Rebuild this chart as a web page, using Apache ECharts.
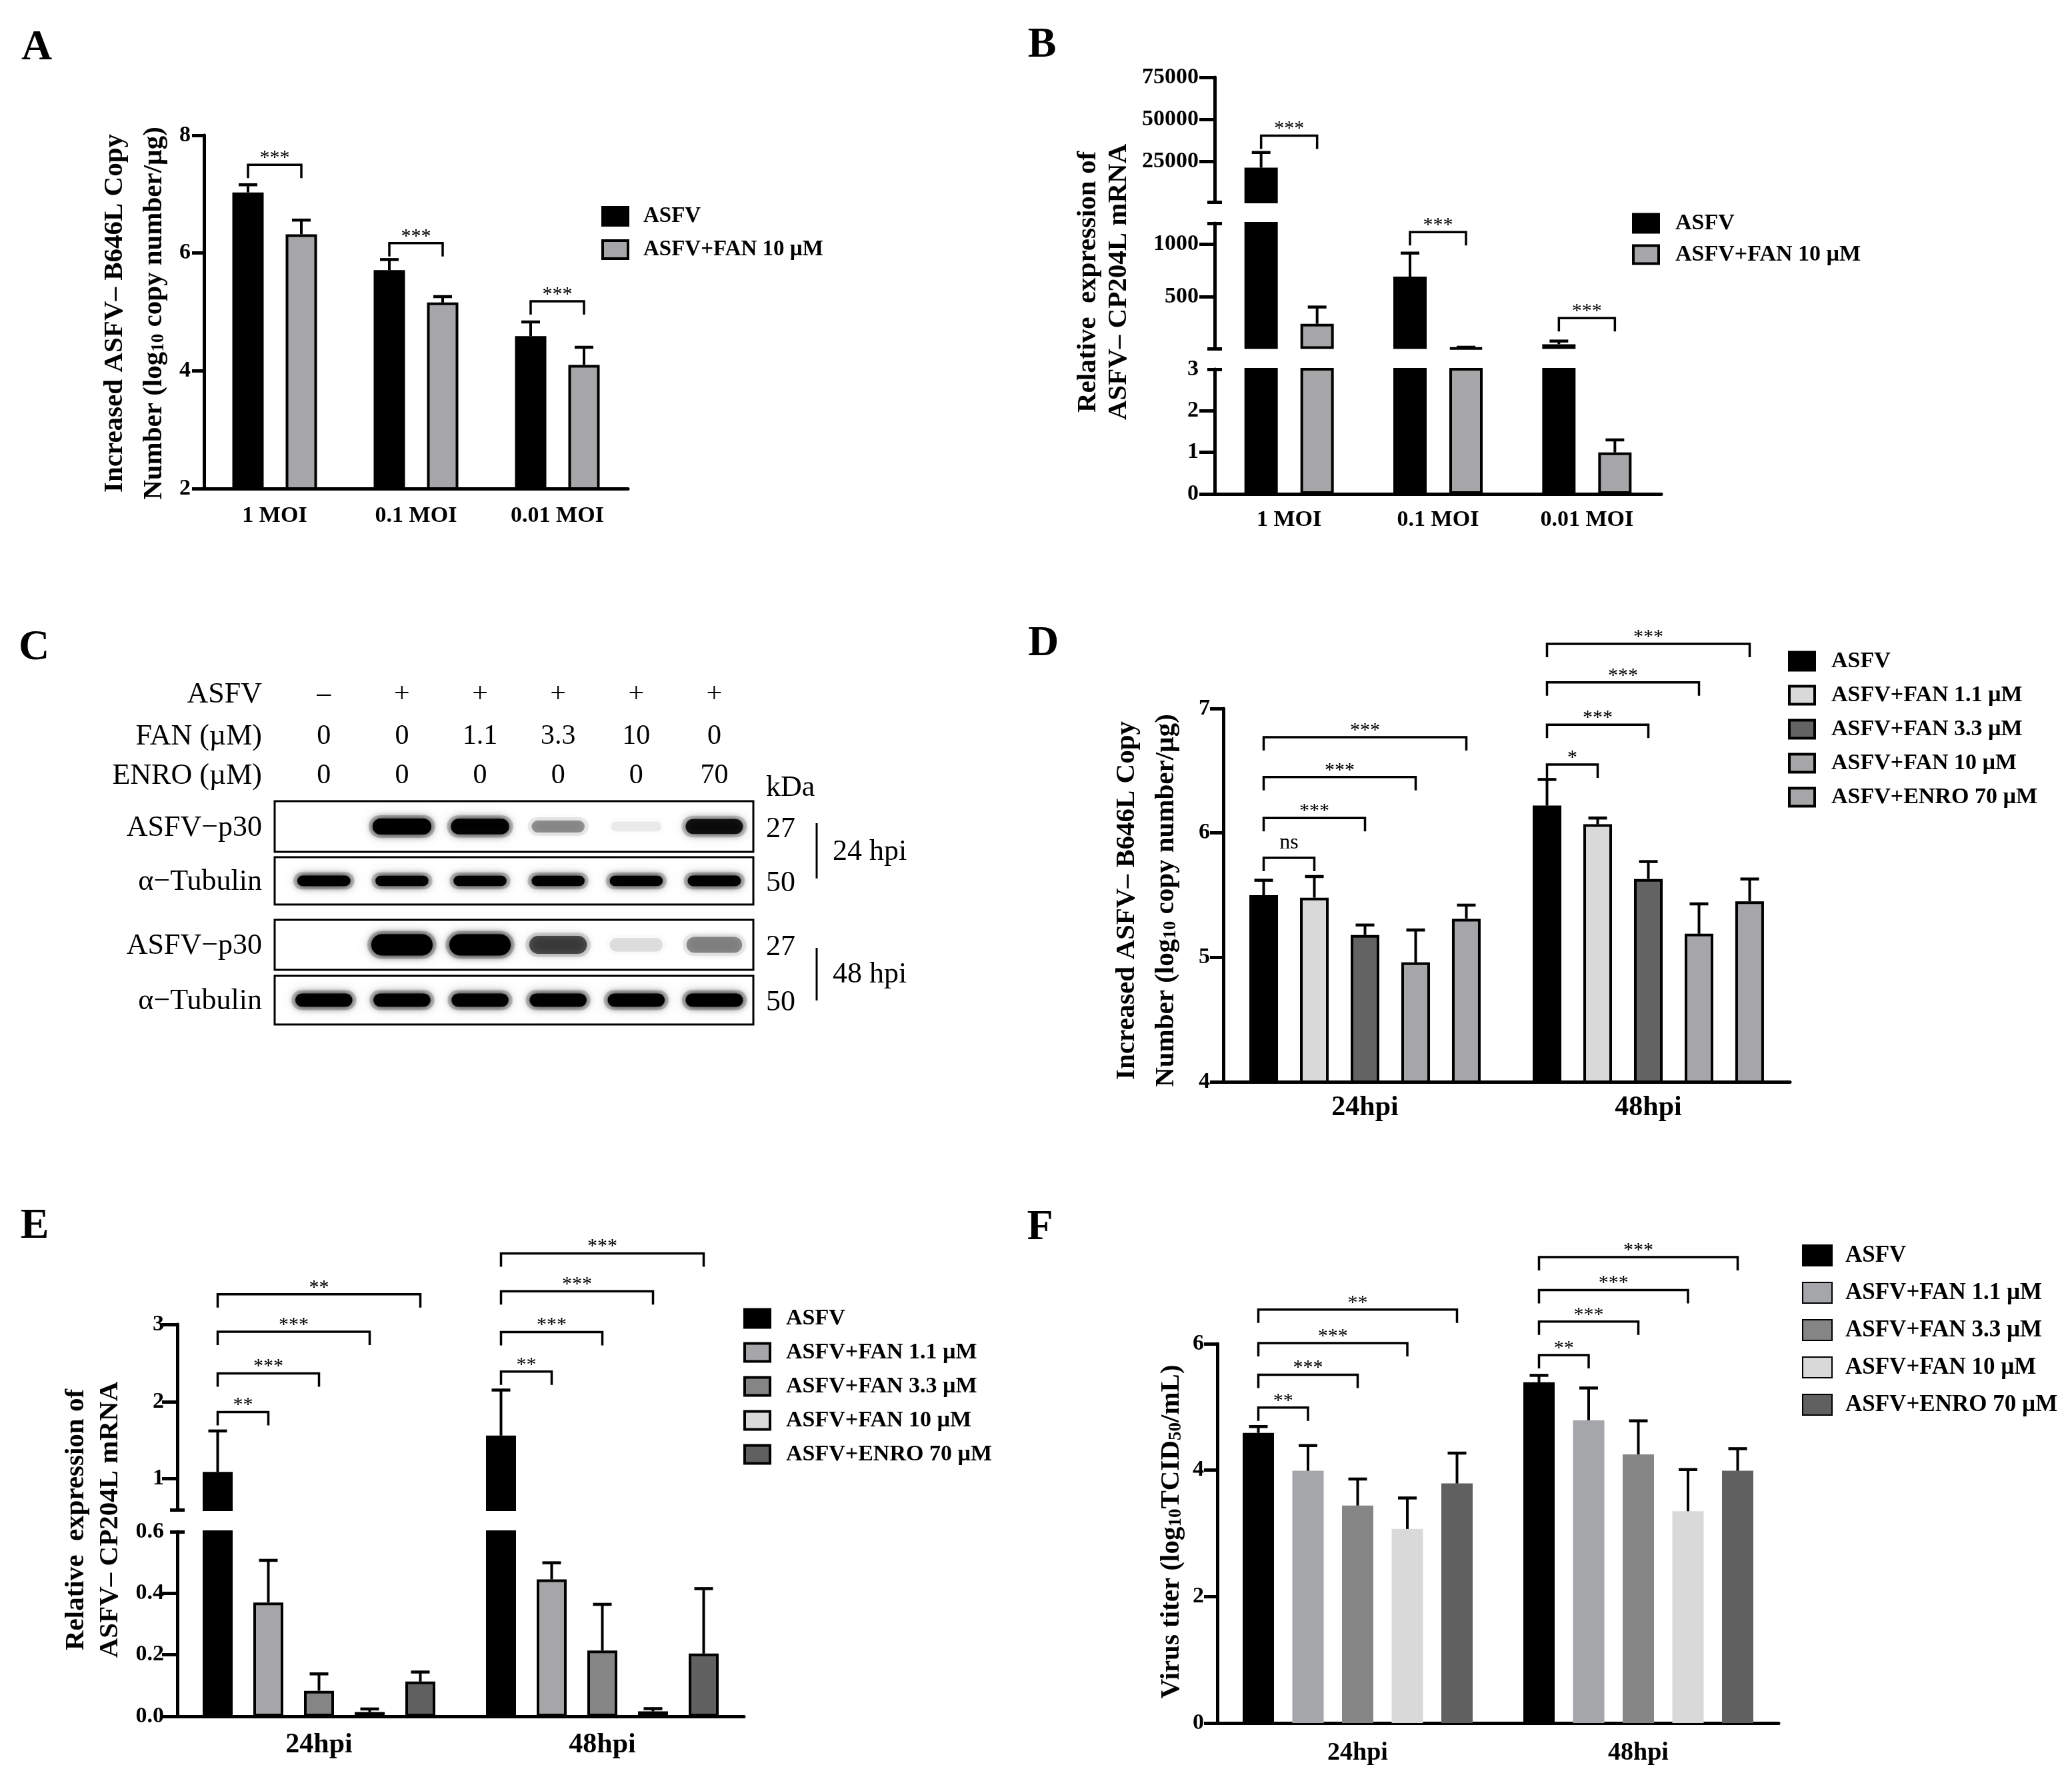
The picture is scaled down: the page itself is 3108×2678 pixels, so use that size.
<!DOCTYPE html>
<html>
<head>
<meta charset="utf-8">
<script src="https://cdn.jsdelivr.net/npm/echarts@6/dist/echarts.min.js"></script>
<style>html,body{margin:0;padding:0;background:#fff}#c{width:3108px;height:2678px}</style>
</head>
<body>
<div id="c"></div>
<script>
const FONT = '"Liberation Serif","Times New Roman",serif';

// ================= DATA =================
const moiCats = ['1 MOI', '0.1 MOI', '0.01 MOI'];
const hpiCats = ['24hpi', '48hpi'];
const twoNames = ['ASFV', 'ASFV+FAN 10 µM'];
const fiveNames = ['ASFV', 'ASFV+FAN 1.1 µM', 'ASFV+FAN 3.3 µM', 'ASFV+FAN 10 µM', 'ASFV+ENRO 70 µM'];

// Panel A
const A_asfv = [7.03, 5.71, 4.59];
const A_asfvErr = [0.13, 0.18, 0.24];
const A_fan10 = [6.32, 5.16, 4.10];
const A_fan10Err = [0.24, 0.10, 0.30];
const A_sig = [[0, 0, 1, 7.50], [1, 0, 1, 6.17], [2, 0, 1, 5.18]];
const A_sigLabels = ['***', '***', '***'];

// Panel B (broken axis)
const B_asfv = [21500, 690, 45];
const B_asfvErr = [9000, 225, 30];
const B_fan10 = [240, 10, 1.0];
const B_fan10Err = [160, 6, 0.3];
const B_sigTop = [[0, 0, 1, 40500]];
const B_sigTopLabels = ['***'];
const B_sigMid = [[1, 0, 1, 1115], [2, 0, 1, 295]];
const B_sigMidLabels = ['***', '***'];
const B_ticksTop = [25000, 50000, 75000];
const B_capsTop = [1200];
const B_ticksMid = [500, 1000];
const B_capsMid = [3, 1200];
const B_ticksBot = [0, 1, 2];
const B_labelsBot = [0, 1, 2, 3];
const B_capsBot = [3];

// Panel C (western blot)
const laneASFV = ['–', '+', '+', '+', '+', '+'];
const laneFAN = ['0', '0', '1.1', '3.3', '10', '0'];
const laneENRO = ['0', '0', '0', '0', '0', '70'];
const blotP30_24 = [0, 1.0, 0.95, 0.36, 0.07, 0.85];
const blotTub_24 = [0.98, 0.96, 0.96, 0.96, 0.96, 0.98];
const blotP30_48 = [0, 1.0, 1.0, 0.6, 0.11, 0.38];
const blotTub_48 = [0.97, 0.97, 0.97, 0.97, 0.97, 1.0];
const blotRowNames = ['ASFV−p30', 'α−Tubulin', 'ASFV−p30', 'α−Tubulin'];
const blotKDa = ['27', '50', '27', '50'];

// Panel D
const D_asfv = [5.50, 6.22], D_asfvErr = [0.12, 0.21];
const D_fan11 = [5.48, 6.07], D_fan11Err = [0.17, 0.05];
const D_fan33 = [5.18, 5.63], D_fan33Err = [0.08, 0.14];
const D_fan10 = [4.96, 5.19], D_fan10Err = [0.26, 0.24];
const D_enro = [5.31, 5.45], D_enroErr = [0.11, 0.18];
const D_sig = [[0,0,1,5.80],[0,0,2,6.12],[0,0,3,6.45],[0,0,4,6.77],[1,0,1,6.55],[1,0,2,6.87],[1,0,3,7.21],[1,0,4,7.52]];
const D_sigLabels = ['ns','***','***','***','*','***','***','***'];

// Panel E (broken axis)
const E_asfv = [1.09, 1.56], E_asfvErr = [0.53, 0.59];
const E_fan11 = [0.37, 0.445], E_fan11Err = [0.137, 0.054];
const E_fan33 = [0.083, 0.214], E_fan33Err = [0.055, 0.15];
const E_fan10 = [0.014, 0.016], E_fan10Err = [0.01, 0.009];
const E_enro = [0.113, 0.204], E_enroErr = [0.031, 0.211];
const E_sig = [[0,0,1,1.865],[0,0,2,2.365],[0,0,3,2.905],[0,0,4,3.39],[1,0,1,2.39],[1,0,2,2.90],[1,0,3,3.43],[1,0,4,3.92]];
const E_sigLabels = ['**','***','***','**','**','***','***','***'];
const E_ticksTop = [1, 2, 3];
const E_capsTop = [0.6];
const E_ticksBot = [0, 0.2, 0.4];
const E_labelsBot = [0, 0.2, 0.4, 0.6];
const E_capsBot = [0.6];

// Panel F
const F_asfv = [4.59, 5.39], F_asfvErr = [0.10, 0.11];
const F_fan11 = [3.99, 4.79], F_fan11Err = [0.40, 0.51];
const F_fan33 = [3.44, 4.25], F_fan33Err = [0.42, 0.53];
const F_fan10 = [3.07, 3.35], F_fan10Err = [0.49, 0.66];
const F_enro = [3.79, 3.99], F_enroErr = [0.48, 0.35];
const F_sig = [[0,0,1,4.99],[0,0,2,5.51],[0,0,3,6.01],[0,0,4,6.54],[1,0,1,5.82],[1,0,2,6.35],[1,0,3,6.85],[1,0,4,7.37]];
const F_sigLabels = ['**','***','***','**','**','***','***','***'];

// ================= BUILDERS =================
const grid = [], xAxis = [], yAxis = [], series = [], legend = [], graphic = [];
const AX = {color: '#000', width: 5};

function addCartesian(g, cats, y, xc) {
  const gi = grid.length;
  grid.push({left: g.left, top: g.top, width: g.width, height: g.height, containLabel: false, outerBoundsMode: 'none'});
  const xi = xAxis.length;
  xAxis.push({
    gridIndex: gi, type: 'category', data: cats, show: xc.show !== false,
    axisLine: {onZero: false, lineStyle: AX},
    axisTick: {alignWithLabel: true, length: xc.tick || 17, lineStyle: AX},
    axisLabel: {fontFamily: FONT, fontWeight: 'bold', fontSize: xc.fontSize || 34, color: '#000', margin: xc.margin || 22},
    splitLine: {show: false}
  });
  const yi = yAxis.length;
  const ya = {
    gridIndex: gi, type: 'value', min: y.min, max: y.max, position: 'left',
    axisLine: {show: true, onZero: false, lineStyle: AX},
    axisTick: {show: true, length: y.tick || 19, lineStyle: AX},
    axisLabel: {fontFamily: FONT, fontWeight: 'bold', fontSize: y.fontSize || 34, color: '#000', margin: y.margin || 20,
      formatter: y.fmt || (v => String(v))},
    splitLine: {show: false}
  };
  if (y.interval) ya.interval = y.interval;
  if (y.ticks) { ya.axisTick.customValues = y.ticks; ya.axisLabel.customValues = y.labels || y.ticks; }
  yAxis.push(ya);
  if (y.caps) {
    // symmetric end caps at the axis break
    [true, false].forEach(inside => yAxis.push({
      gridIndex: gi, type: 'value', min: y.min, max: y.max, position: 'left',
      axisLine: {show: false}, axisLabel: {show: false}, splitLine: {show: false},
      axisTick: {show: true, inside, length: 11, customValues: y.caps, lineStyle: AX}
    }));
  }
  return {x: xi, y: yi, lo: y.min, hi: y.max};
}

// values at or below the segment floor are left out of that segment
function addBars(ax, names, vals, styles, bw, spacing) {
  const gap = ((spacing / bw - 1) * 100).toFixed(1) + '%';
  names.forEach((nm, i) => {
    const d = vals[i].map(v => (v > ax.lo ? v : '-'));
    series.push({type: 'bar', name: nm, xAxisIndex: ax.x, yAxisIndex: ax.y, data: d,
      barWidth: bw, barGap: gap, itemStyle: styles[i], clip: true, silent: true, z: 2});
  });
}

function errRender(n, spacing, lo, hi) {
  return function (params, api) {
    const c = api.value(0), b = api.value(1), v = api.value(2), e = api.value(3);
    const top = v + e;
    if (top <= lo || v >= hi) return {type: 'group', children: []};
    const p1 = api.coord([c, Math.max(v, lo)]), p2 = api.coord([c, Math.min(top, hi)]);
    const x = p1[0] + (b - (n - 1) / 2) * spacing;
    const ch = [{type: 'line', shape: {x1: x, y1: p1[1], x2: x, y2: p2[1]}, style: {stroke: '#000', lineWidth: 4}}];
    if (top <= hi)
      ch.push({type: 'line', shape: {x1: x - 14, y1: p2[1], x2: x + 14, y2: p2[1]}, style: {stroke: '#000', lineWidth: 4.5}});
    return {type: 'group', children: ch};
  };
}

function addErr(ax, vals, errs, n, spacing) {
  const data = [];
  vals.forEach((arr, b) => arr.forEach((v, c) => data.push([c, b, v, errs[b][c]])));
  series.push({type: 'custom', xAxisIndex: ax.x, yAxisIndex: ax.y, data, encode: {x: 0, y: 2},
    renderItem: errRender(n, spacing, ax.lo, ax.hi), z: 3, silent: true, clip: false});
}

function addSig(ax, sig, labels, n, spacing) {
  series.push({type: 'custom', xAxisIndex: ax.x, yAxisIndex: ax.y, data: sig, encode: {x: 0, y: 3},
    clip: false, z: 4, silent: true,
    renderItem: function (params, api) {
      const c = api.value(0), f = api.value(1), t = api.value(2), y = api.value(3);
      const p = api.coord([c, y]);
      const x1 = p[0] + (f - (n - 1) / 2) * spacing, x2 = p[0] + (t - (n - 1) / 2) * spacing;
      const lab = labels[params.dataIndex];
      const ns = lab === 'ns';
      return {type: 'group', children: [
        {type: 'polyline', shape: {points: [[x1, p[1] + 20], [x1, p[1]], [x2, p[1]], [x2, p[1] + 20]]},
          style: {stroke: '#000', lineWidth: 3.5, fill: 'none'}},
        {type: 'text', style: {text: lab, x: (x1 + x2) / 2, y: ns ? p[1] - 6 : p[1] + 5,
          align: 'center', verticalAlign: 'bottom', textAlign: 'center', textVerticalAlign: 'bottom',
          fontFamily: FONT, fontWeight: 'normal', fontSize: ns ? 32 : 30, fill: '#000'}}
      ]};
    }});
}

function addLegend(left, top, gap, names, styles, fontSize, iw, ih, pad) {
  legend.push({orient: 'vertical', left, top, itemWidth: iw, itemHeight: ih, itemGap: gap, icon: 'rect',
    selectedMode: false, padding: 0,
    data: names.map((n, i) => ({name: n, itemStyle: styles[i]})),
    textStyle: {fontFamily: FONT, fontWeight: 'bold', fontSize, color: '#000', lineHeight: 30, padding: [0, 0, 0, pad]}});
}

function txt(x, y, text, o) {
  o = o || {};
  graphic.push({type: 'text', x, y, rotation: o.rot || 0, silent: true, z: 10,
    style: Object.assign({text, fontFamily: FONT, fontWeight: o.bold ? 'bold' : 'normal', fontSize: o.size || 40,
      fill: '#000', align: o.align || 'center', verticalAlign: 'middle',
      textAlign: o.align || 'center', textVerticalAlign: 'middle'}, o.rich ? {rich: o.rich} : {})});
}
const SUB = {s: {fontFamily: FONT, fontWeight: 'bold', fontSize: 27, fill: '#000', verticalAlign: 'bottom', lineHeight: 12}};
function yTitle(x, y, text) { txt(x, y, text, {rot: Math.PI / 2, bold: true, size: 41, rich: SUB}); }

const B4 = c => ({color: c, borderColor: '#000', borderWidth: 4});
const NB = c => ({color: c});

// ================= PANEL A =================
{
  const ax = addCartesian({left: 306, top: 203, width: 636, height: 530}, moiCats, {min: 2, max: 8, interval: 2, tick: 18}, {margin: 24, tick: 18});
  const st = [B4('#000'), B4('#a6a6a8')];
  addBars(ax, twoNames, [A_asfv, A_fan10], st, 47, 80);
  addErr(ax, [A_asfv, A_fan10], [A_asfvErr, A_fan10Err], 2, 80);
  addSig(ax, A_sig, A_sigLabels, 2, 80);
  addLegend(902, 308, 17, twoNames, st, 33, 38, 27, 18);
  yTitle(172, 470, 'Increased ASFV– B646L Copy');
  yTitle(231, 470, 'Number (log{s|10} copy number/µg)');
  txt(55, 72, 'A', {bold: true, size: 64});
}

// ================= PANEL B =================
{
  const L = 1822, W = 670;
  const st = [B4('#000'), B4('#a6a6a8')];
  const vals = [B_asfv, B_fan10], errs = [B_asfvErr, B_fan10Err];
  const a1 = addCartesian({left: L, top: 116, width: W, height: 187}, moiCats,
    {min: 1200, max: 75000, ticks: B_ticksTop, caps: B_capsTop, tick: 23, margin: 24}, {show: false});
  addBars(a1, twoNames, vals, st, 50, 84); addErr(a1, vals, errs, 2, 84); addSig(a1, B_sigTop, B_sigTopLabels, 2, 84);
  const a2 = addCartesian({left: L, top: 335, width: W, height: 188}, moiCats,
    {min: 3, max: 1200, ticks: B_ticksMid, caps: B_capsMid, tick: 23, margin: 24}, {show: false});
  addBars(a2, twoNames, vals, st, 50, 84); addErr(a2, vals, errs, 2, 84); addSig(a2, B_sigMid, B_sigMidLabels, 2, 84);
  const a3 = addCartesian({left: L, top: 554, width: W, height: 187}, moiCats,
    {min: 0, max: 3, ticks: B_ticksBot, labels: B_labelsBot, caps: B_capsBot, tick: 23, margin: 24}, {margin: 22, tick: 18});
  addBars(a3, twoNames, vals, st, 50, 84); addErr(a3, vals, errs, 2, 84);
  addLegend(2448, 318, 13, twoNames, st, 34, 38, 27, 20);
  yTitle(1632, 423, 'Relative  expression of');
  yTitle(1678, 423, 'ASFV– CP204L mRNA');
  txt(1563, 68, 'B', {bold: true, size: 64});
}

// ================= PANEL C (blot) =================
{
  const boxes = [{top: 1202, height: 76}, {top: 1286, height: 71}, {top: 1380, height: 75}, {top: 1464, height: 73}];
  const rows = [blotP30_24, blotTub_24, blotP30_48, blotTub_48];
  const bandW = [88, 80, 92, 86], bandH = [24, 16, 32, 20];
  boxes.forEach((b, r) => {
    const gi = grid.length;
    grid.push({left: 412, width: 718, top: b.top, height: b.height, show: true, borderColor: '#000', borderWidth: 3,
      backgroundColor: '#fff', containLabel: false, outerBoundsMode: 'none'});
    const xi = xAxis.length, yi = yAxis.length;
    xAxis.push({gridIndex: gi, type: 'value', min: -0.63, max: 5.5, show: false, splitLine: {show: false}});
    yAxis.push({gridIndex: gi, type: 'value', min: 0, max: 1, show: false, splitLine: {show: false}});
    const w = bandW[r], h = bandH[r];
    series.push({type: 'custom', xAxisIndex: xi, yAxisIndex: yi, silent: true, z: 3, clip: true,
      data: rows[r].map((a, i) => [i, 0.5, a]), encode: {x: 0, y: 1},
      renderItem: function (params, api) {
        const a = api.value(2);
        if (!(a > 0)) return;
        const c = api.coord([api.value(0), api.value(1)]);
        const hh = h * (0.6 + 0.4 * a), ww = w * (0.85 + 0.15 * a);
        return {type: 'group', children: [
          {type: 'rect', shape: {x: c[0] - ww / 2 - 6, y: c[1] - hh / 2 - 5, width: ww + 12, height: hh + 10, r: (hh + 10) / 2},
            style: {fill: 'rgba(0,0,0,' + (0.18 * a).toFixed(3) + ')', shadowBlur: 22, shadowColor: 'rgba(0,0,0,' + (0.45 * a).toFixed(3) + ')'}},
          {type: 'rect', shape: {x: c[0] - ww / 2, y: c[1] - hh / 2, width: ww, height: hh, r: hh / 2},
            style: {fill: 'rgba(0,0,0,' + a.toFixed(3) + ')', shadowBlur: 12, shadowColor: 'rgba(0,0,0,' + a.toFixed(3) + ')'}}
        ]};
      }});
    if (r === 0) {
      series.push({type: 'custom', xAxisIndex: xi, yAxisIndex: yi, silent: true, z: 3, clip: false,
        data: laneFAN.map((v, i) => [i, 1]), encode: {x: 0, y: 1},
        renderItem: function (params, api) {
          const i = params.dataIndex;
          const x = api.coord([api.value(0), 1])[0];
          const y0 = params.coordSys.y;
          const mk = (t, y) => ({type: 'text', style: {text: t, x, y, align: 'center', verticalAlign: 'middle',
            textAlign: 'center', textVerticalAlign: 'middle', fontFamily: FONT, fontSize: 42, fill: '#000'}});
          return {type: 'group', children: [mk(laneASFV[i], y0 - 160), mk(laneFAN[i], y0 - 97), mk(laneENRO[i], y0 - 38)]};
        }});
    }
    txt(393, b.top + b.height / 2 + 2, blotRowNames[r], {align: 'right', size: 44});
    txt(1149, b.top + b.height / 2 + 4, blotKDa[r], {align: 'left', size: 44});
  });
  txt(393, 1042, 'ASFV', {align: 'right', size: 44});
  txt(393, 1105, 'FAN (µM)', {align: 'right', size: 44});
  txt(393, 1164, 'ENRO (µM)', {align: 'right', size: 44});
  txt(1149, 1182, 'kDa', {align: 'left', size: 44});
  graphic.push({type: 'line', silent: true, shape: {x1: 1225, y1: 1235, x2: 1225, y2: 1318}, style: {stroke: '#000', lineWidth: 3}});
  graphic.push({type: 'line', silent: true, shape: {x1: 1225, y1: 1422, x2: 1225, y2: 1501}, style: {stroke: '#000', lineWidth: 3}});
  txt(1249, 1278, '24 hpi', {align: 'left', size: 44});
  txt(1249, 1462, '48 hpi', {align: 'left', size: 44});
  txt(51, 972, 'C', {bold: true, size: 64});
}

// ================= PANEL D =================
{
  const ax = addCartesian({left: 1835, top: 1063, width: 850, height: 560}, hpiCats, {min: 4, max: 7, interval: 1, tick: 20}, {fontSize: 42, margin: 18, tick: 16});
  const st = [B4('#000'), B4('#d9d9d9'), B4('#636363'), B4('#a6a6a8'), B4('#a6a6a8')];
  const vals = [D_asfv, D_fan11, D_fan33, D_fan10, D_enro];
  const errs = [D_asfvErr, D_fan11Err, D_fan33Err, D_fan10Err, D_enroErr];
  addBars(ax, fiveNames, vals, st, 43, 76);
  addErr(ax, vals, errs, 5, 76);
  addSig(ax, D_sig, D_sigLabels, 5, 76);
  addLegend(2682, 975, 17, fiveNames, st, 34, 38, 27, 20);
  yTitle(1690, 1351, 'Increased ASFV– B646L Copy');
  yTitle(1749, 1351, 'Number (log{s|10} copy number/µg)');
  txt(1565, 966, 'D', {bold: true, size: 64});
}

// ================= PANEL E =================
{
  const L = 266, W = 850;
  const st = [B4('#000'), B4('#a6a6a8'), B4('#858585'), B4('#d9d9d9'), B4('#606060')];
  const vals = [E_asfv, E_fan11, E_fan33, E_fan10, E_enro];
  const errs = [E_asfvErr, E_fan11Err, E_fan33Err, E_fan10Err, E_enroErr];
  const a1 = addCartesian({left: L, top: 1987, width: W, height: 278}, hpiCats,
    {min: 0.6, max: 3, ticks: E_ticksTop, caps: E_capsTop, tick: 23}, {show: false});
  addBars(a1, fiveNames, vals, st, 45, 76); addErr(a1, vals, errs, 5, 76); addSig(a1, E_sig, E_sigLabels, 5, 76);
  const a2 = addCartesian({left: L, top: 2298, width: W, height: 277}, hpiCats,
    {min: 0, max: 0.6, ticks: E_ticksBot, labels: E_labelsBot, caps: E_capsBot, tick: 23, fmt: v => Number(v).toFixed(1)},
    {fontSize: 42, margin: 22, tick: 16});
  addBars(a2, fiveNames, vals, st, 45, 76); addErr(a2, vals, errs, 5, 76);
  addLegend(1115, 1961, 17, fiveNames, st, 34, 38, 27, 19);
  yTitle(114, 2280, 'Relative  expression of');
  yTitle(165, 2280, 'ASFV– CP204L mRNA');
  txt(52, 1840, 'E', {bold: true, size: 64});
}

// ================= PANEL F =================
{
  const ax = addCartesian({left: 1826, top: 2016, width: 842, height: 569}, hpiCats, {min: 0, max: 6, interval: 2, tick: 20}, {fontSize: 38, margin: 26, tick: 17});
  const st = [NB('#000'), NB('#a5a6aa'), NB('#858585'), NB('#d9d9d9'), NB('#606060')];
  const vals = [F_asfv, F_fan11, F_fan33, F_fan10, F_enro];
  const errs = [F_asfvErr, F_fan11Err, F_fan33Err, F_fan10Err, F_enroErr];
  addBars(ax, fiveNames, vals, st, 47, 74.5);
  addErr(ax, vals, errs, 5, 74.5);
  addSig(ax, F_sig, F_sigLabels, 5, 74.5);
  addLegend(2703, 1866, 21, fiveNames, st, 35, 44, 31, 15);
  yTitle(1757, 2298, 'Virus titer (log{s|10}TCID{s|50}/mL)');
  txt(1560, 1842, 'F', {bold: true, size: 64});
}

const chart = echarts.init(document.getElementById('c'), null, {renderer: 'canvas', width: 3108, height: 2678});
chart.setOption({
  animation: false,
  backgroundColor: '#fff',
  grid, xAxis, yAxis, series, legend, graphic
});
</script>
</body>
</html>
